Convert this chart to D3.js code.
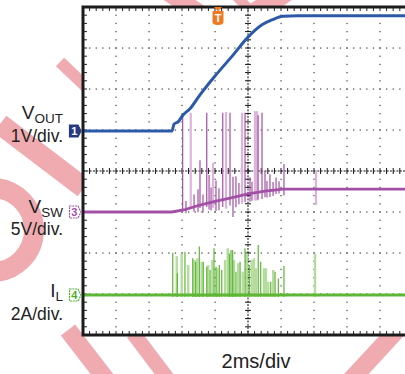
<!DOCTYPE html>
<html>
<head>
<meta charset="utf-8">
<script src="https://cdn.jsdelivr.net/npm/d3@7"></script>
<style>
  body { margin: 0; background: #fff; }
  svg { display: block; }
  text { font-family: "Liberation Sans", Arial, sans-serif; fill: #222; }
</style>
</head>
<body>
<svg id="scope" width="405" height="374"></svg>
<script>
// ---------------- data (time in ms, 2ms/div) ----------------
var voutTime = [0, 5.39, 5.52, 5.76, 6.06, 6.48, 7.09, 8.0, 9.09, 10.0, 10.85, 11.45, 12.12, 13.0, 20];
var voutVolts = [0, 0, 0.17, 0.22, 0.39, 0.54, 0.88, 1.34, 1.85, 2.29, 2.59, 2.71, 2.80, 2.81, 2.81];

var vswTime = [0, 5.39, 6.18, 7.09, 8.0, 8.91, 10.0, 11.03, 12.12, 20];
var vswVolts = [0, 0, 0.3, 0.85, 1.3, 1.7, 2.2, 2.55, 2.8, 2.8];

// tall switching spikes: [time, top volts, bottom volts, light?]
var vswSpikes = [
  [6.04, 11.8, 0.3, 0], [6.53, 12.1, 0.4, 1], [7.09, 6.3, 0.5, 0], [7.5, 12.1, 0.6, 0],
  [7.64, 4.5, 0.3, 0], [7.88, 6.0, 0.5, 1], [8.47, 12.1, 0.6, 0], [8.67, 12.2, 0.4, 1],
  [8.91, 12.1, 0.8, 0], [9.09, 4.3, -0.6, 0], [9.64, 12.1, 1.0, 1], [9.82, 12.1, 1.2, 0],
  [10.42, 12.3, 1.4, 1], [10.55, 12.3, 1.4, 1], [10.61, 11.8, 1.5, 0], [10.85, 12.1, 1.6, 0],
  [11.03, 5.0, 1.8, 0], [12.18, 5.85, 2.0, 0], [14.12, 5.1, 0.85, 1]
];
// short ringing around the ramp: [time, volts above, volts below]
var vswRipple = [
  [6.24, 1.0, 0.5], [6.73, 1.5, 0.6], [6.97, 2.0, 0.8], [7.27, 1.2, 1.0], [7.76, 1.8, 1.0],
  [8.06, 2.5, 1.2], [8.24, 1.5, 1.2], [9.27, 2.5, 1.3], [9.45, 1.6, 1.0], [10.12, 2.0, 1.0],
  [10.24, 1.4, 0.9], [11.15, 1.2, 0.8], [11.33, 2.0, 0.8], [11.52, 1.0, 0.7], [11.7, 1.5, 0.5],
  [11.88, 1.0, 0.5]
];

// inductor current pulses: [time, peak amps, light?]
var ilPulses = [
  [5.44, 2.06, 0], [5.68, 1.90, 1], [5.72, 1.06, 0], [5.98, 2.03, 1], [6.18, 2.11, 0],
  [6.38, 1.46, 1], [6.65, 1.79, 0], [6.75, 1.71, 1], [6.83, 1.62, 0], [6.93, 1.79, 1],
  [7.05, 2.36, 0], [7.19, 1.62, 1], [7.29, 1.62, 0], [7.5, 1.38, 0], [7.59, 1.46, 1],
  [7.70, 1.22, 0], [7.84, 1.71, 1], [7.94, 2.28, 0], [8.06, 1.38, 0], [8.14, 1.30, 1],
  [8.26, 1.46, 0], [8.41, 1.22, 0], [8.61, 1.71, 1], [8.77, 2.28, 1], [8.87, 2.03, 0],
  [8.97, 2.20, 0], [9.07, 2.20, 0], [9.15, 1.71, 1], [9.27, 1.14, 0], [9.41, 1.55, 1],
  [9.52, 1.62, 0], [9.68, 1.14, 1], [9.82, 2.28, 0], [9.92, 2.03, 1], [10.08, 1.46, 0],
  [10.22, 1.71, 1], [10.36, 1.79, 1], [10.48, 1.30, 1], [10.62, 2.44, 0], [10.77, 1.62, 0],
  [10.97, 1.30, 1], [11.09, 1.30, 1], [11.23, 0.65, 1], [11.38, 0.65, 0], [11.53, 1.22, 1],
  [11.64, 1.14, 0], [11.84, 0.81, 0], [12.18, 1.41, 0], [14.06, 2.03, 1]
];

var channelLabels = [
  {main: "V", sub: "OUT", scale: "1V/div."},
  {main: "V", sub: "SW", scale: "5V/div."},
  {main: "I", sub: "L", scale: "2A/div."}
];
var timeLabel = "2ms/div";

// ---------------- layout ----------------
var svg = d3.select("#scope");
var scrL = 83, scrT = 7, divW = 33, divH = 41;
var scrR = scrL + 10 * divW, scrB = scrT + 8 * divH;

var x = d3.scaleLinear().domain([0, 20]).range([scrL, scrR]);
var yOut = d3.scaleLinear().domain([0, 1]).range([131, 131 - divH]);
var ySw = d3.scaleLinear().domain([0, 5]).range([212, 212 - divH]);
var yIl = d3.scaleLinear().domain([0, 2]).range([295, 295 - divH]);

//---------------- watermark (sits under the screen) ----------------
var pink = "#f0abb1";
var wm = svg.append("g").attr("stroke", pink).attr("fill", "none").attr("stroke-linecap", "butt");
[[0, 124, 84, 188, 21], [60, 62, 96, 96, 12], [68, 330, 108, 382, 18], [133, 333, 170, 382, 15],
 [397, 330, 349, 382, 18], [168, -8, 203, 16, 18], [286, -8, 250, 16, 20], [232, -8, 250, 10, 10]]
  .forEach(function(s) {
    wm.append("line").attr("x1", s[0]).attr("y1", s[1]).attr("x2", s[2]).attr("y2", s[3])
      .attr("stroke-width", s[4]);
  });
wm.append("circle").attr("cx", -8).attr("cy", 230).attr("r", 42).attr("stroke-width", 20);

//---------------- screen ----------------
svg.append("rect").attr("x", scrL).attr("y", scrT).attr("width", scrR - scrL)
  .attr("height", scrB - scrT).attr("fill", "#fff");

var grid = svg.append("g").attr("fill", "#555");
for (var i = 1; i < 10; i++) {
  if (i == 5) continue;
  for (var j = 1; j < 40; j++) {
    grid.append("rect").attr("x", scrL + i * divW - 0.6).attr("y", scrT + j * divH / 5 - 0.6)
      .attr("width", 1.3).attr("height", 1.3);
  }
}
for (var i = 1; i < 8; i++) {
  if (i == 4) continue;
  for (var j = 1; j < 50; j++) {
    grid.append("rect").attr("x", scrL + j * divW / 5 - 0.6).attr("y", scrT + i * divH - 0.6)
      .attr("width", 1.3).attr("height", 1.3);
  }
}

// centre cross with ticks
var cx = scrL + 5 * divW, cy = scrT + 4 * divH;
var cross = svg.append("g").attr("stroke", "#111").attr("stroke-width", 1);
cross.append("line").attr("x1", scrL).attr("x2", scrR).attr("y1", cy).attr("y2", cy)
  .attr("stroke-dasharray", "2,1.3");
cross.append("line").attr("x1", cx).attr("x2", cx).attr("y1", scrT).attr("y2", scrB)
  .attr("stroke-dasharray", "2,1.3");
for (var j = 1; j < 50; j++) {
  var tx = scrL + j * divW / 5;
  cross.append("line").attr("x1", tx).attr("x2", tx).attr("y1", cy - 3).attr("y2", cy + 3);
  svg.append("line").attr("x1", tx).attr("x2", tx).attr("y1", scrT + 1).attr("y2", scrT + 4)
    .attr("stroke", "#222");
  svg.append("line").attr("x1", tx).attr("x2", tx).attr("y1", scrB - 4).attr("y2", scrB - 1)
    .attr("stroke", "#222");
}
for (var j = 1; j < 40; j++) {
  var ty = scrT + j * divH / 5;
  cross.append("line").attr("x1", cx - 3).attr("x2", cx + 3).attr("y1", ty).attr("y2", ty);
  svg.append("line").attr("x1", scrL + 1).attr("x2", scrL + 4).attr("y1", ty).attr("y2", ty)
    .attr("stroke", "#222");
}

//---------------- traces ----------------
svg.append("clipPath").attr("id", "screen").append("rect")
  .attr("x", scrL + 1).attr("y", scrT + 1).attr("width", scrR - scrL).attr("height", scrB - scrT - 2);
var traces = svg.append("g").attr("clip-path", "url(#screen)");

var green = "#5db634", greenLight = "#b4dc9c";
var purple = "#a24fa6", purpleLight = "#dcb4dc";
var blue = "#2c5aa8";

// current
ilPulses.filter(function(d) { return d[2]; }).concat(ilPulses.filter(function(d) { return !d[2]; }))
  .forEach(function(d) {
    traces.append("line").attr("x1", x(d[0])).attr("x2", x(d[0]))
      .attr("y1", yIl(-0.1)).attr("y2", yIl(d[1]))
      .attr("stroke", d[2] ? greenLight : green).attr("stroke-width", d[2] ? 2.4 : 1.2);
  });
traces.append("line").attr("x1", x(0)).attr("x2", x(20)).attr("y1", yIl(0)).attr("y2", yIl(0))
  .attr("stroke", green).attr("stroke-width", 2.8);

// switch node
vswSpikes.filter(function(d) { return d[3]; }).concat(vswSpikes.filter(function(d) { return !d[3]; }))
  .forEach(function(d) {
    traces.append("line").attr("x1", x(d[0])).attr("x2", x(d[0]))
      .attr("y1", ySw(d[2])).attr("y2", ySw(d[1]))
      .attr("stroke", d[3] ? purpleLight : purple).attr("stroke-width", d[3] ? 2.2 : 1.2);
  });
var swEnv = d3.scaleLinear().domain(vswTime).range(vswVolts);
vswRipple.forEach(function(d) {
  var base = swEnv(d[0]);
  traces.append("line").attr("x1", x(d[0])).attr("x2", x(d[0]))
    .attr("y1", ySw(base - d[2])).attr("y2", ySw(base + d[1]))
    .attr("stroke", purple).attr("stroke-width", 1.2);
});
traces.append("path")
  .datum(d3.zip(vswTime, vswVolts))
  .attr("d", d3.line().x(function(d) { return x(d[0]); }).y(function(d) { return ySw(d[1]); }))
  .attr("fill", "none").attr("stroke", purple).attr("stroke-width", 2.8);

// output
traces.append("path")
  .datum(d3.zip(voutTime, voutVolts))
  .attr("d", d3.line().curve(d3.curveMonotoneX)
    .x(function(d) { return x(d[0]); }).y(function(d) { return yOut(d[1]); }))
  .attr("fill", "none").attr("stroke", blue).attr("stroke-width", 3);

//---------------- frame ----------------
var frame = svg.append("g").attr("stroke", "#1c1c1c").attr("stroke-width", 3).attr("fill", "none");
frame.append("path").attr("d", "M" + (scrR + 5) + "," + scrT + "H" + scrL + "V" + scrB + "H" + (scrR + 5));

//---------------- markers ----------------
function marker(yPos, label, color, filled) {
  var g = svg.append("g").attr("transform", "translate(69," + (yPos - 6.5) + ")");
  g.append("path").attr("d", "M0.5,0.5H9L12,6.5L9,12.5H0.5Z")
    .attr("fill", filled ? color : "#fff").attr("stroke", color)
    .attr("stroke-width", 1.2).attr("stroke-dasharray", filled ? null : "2,0.8");
  g.append("text").attr("x", 5.3).attr("y", 10.5).attr("text-anchor", "middle")
    .attr("font-size", 11).attr("font-weight", "bold")
    .style("fill", filled ? "#fff" : color).text(label);
}
marker(yOut(0), "1", "#263a84", true);
marker(ySw(0), "3", purple, false);
marker(yIl(0), "4", "#4fae2c", false);

// trigger
var trig = svg.append("g").attr("transform", "translate(218,7)");
trig.append("path").attr("d", "M-5.5,4H5.5V15Q5.5,18 0,18Q-5.5,18 -5.5,15Z M-4,0H4L0,4.5Z").attr("fill", "#f07a22");
trig.append("text").attr("x", 0).attr("y", 15).attr("text-anchor", "middle")
  .attr("font-size", 11).attr("font-weight", "bold").style("fill", "#fff").text("T");

//---------------- labels ----------------
var labelY = [[119, 142], [213, 235], [297, 319.5]];
channelLabels.forEach(function(c, i) {
  var t = svg.append("text").attr("x", 63).attr("y", labelY[i][0]).attr("text-anchor", "end")
    .attr("font-size", 19);
  t.append("tspan").text(c.main);
  t.append("tspan").attr("dy", 3.5).attr("font-size", 13.5).text(c.sub);
  svg.append("text").attr("x", 63).attr("y", labelY[i][1]).attr("text-anchor", "end")
    .attr("font-size", 17.5).text(c.scale);
});
svg.append("text").attr("x", 256).attr("y", 368).attr("text-anchor", "middle")
  .attr("font-size", 20).text(timeLabel);
</script>
</body>
</html>
